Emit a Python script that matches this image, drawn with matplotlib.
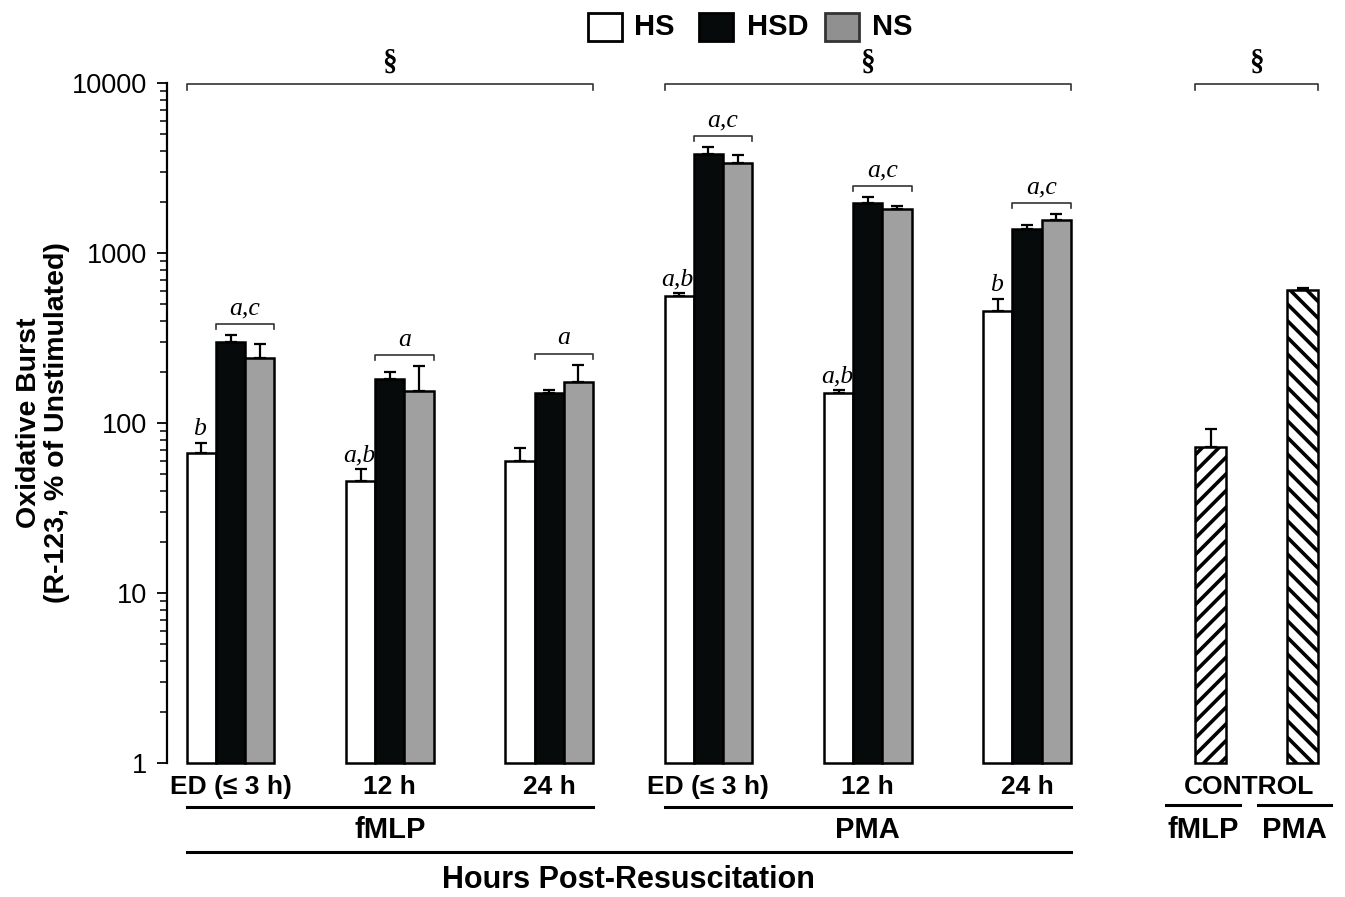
import matplotlib.pyplot as plt
import matplotlib.transforms as mtransforms
from matplotlib.patches import Rectangle
from matplotlib.ticker import FixedLocator, LogLocator, NullFormatter
import numpy as np

plt.rcParams['font.family'] = ['Liberation Sans', 'DejaVu Sans']
plt.rcParams['hatch.linewidth'] = 2.6

# data
times = ['ED (≤ 3 h)', '12 h', '24 h']
stimuli = ['fMLP', 'PMA']
series = ['HS', 'HSD', 'NS']

hs = [67, 45.5, 60, 560, 150, 458]
hs_err = [10, 8.5, 12, 26, 7, 83]
hsd = [302, 183, 150, 3845, 1982, 1394]
hsd_err = [28, 17, 7, 360, 166, 65]
ns = [243, 154, 174, 3404, 1812, 1560]
ns_err = [49, 62, 46, 396, 83, 132]
control = [73, 606]
control_err = [19, 22]

hs_sig = ['b', 'a,b', '', 'a,b', 'a,b', 'b']
pair_sig = ['a,c', 'a', 'a', 'a,c', 'a,c', 'a,c']

W, H = 1345, 897
fig = plt.figure(figsize=(W / 100, H / 100), dpi=100)
ax = fig.add_axes([166.5 / W, 1 - 763.3 / H, (1335 - 166.5) / W, (763.3 - 83.3) / H])

unit = 159.3
w = 29.2 / unit
cw = 31 / unit
gx = np.arange(6)
ctrl_x = np.array([6.155, 6.73])

colors = ['white', '#070a0b', '#a0a0a0']
vals = [hs, hsd, ns]
errs = [hs_err, hsd_err, ns_err]
for k in range(3):
    x = gx + (k - 1) * w
    v = np.array(vals[k])
    ax.bar(x, v - 1, w, bottom=1, color=colors[k], edgecolor='black', lw=1.8, clip_on=False, zorder=2)
    ax.errorbar(x, v, yerr=[np.zeros(6), errs[k]], fmt='none', ecolor='black',
                elinewidth=1.6, capsize=4.5, capthick=1.6, zorder=3)

cv = np.array(control)
for j, hatch in enumerate(['//', '\\\\']):
    ax.bar(ctrl_x[j], cv[j] - 1, cw, bottom=1, color='white', edgecolor='black', hatch=hatch,
           lw=1.8, clip_on=False, zorder=2)
ax.errorbar(ctrl_x, cv, yerr=[np.zeros(2), control_err], fmt='none', ecolor='black',
            elinewidth=1.6, capsize=4.5, capthick=1.6, zorder=3)

ax.set_yscale('log')
ax.set_ylim(1, 10000)
ax.set_xlim((166.5 - 230.5) / unit, (1335 - 230.5) / unit)
ax.yaxis.set_major_locator(FixedLocator([1, 10, 100, 1000, 10000]))
ax.set_yticklabels(['1', '10', '100', '1000', '10000'])
ax.yaxis.set_minor_locator(LogLocator(base=10, subs=np.arange(2, 10)))
ax.yaxis.set_minor_formatter(NullFormatter())
ax.tick_params(axis='y', which='major', length=7, width=1.3, labelsize=19.5, pad=7)
ax.tick_params(axis='y', which='minor', length=5, width=1.1)
ax.set_xticks([])
for s in ['top', 'right', 'bottom']:
    ax.spines[s].set_visible(False)
ax.spines['left'].set_linewidth(1.6)

# significance marks
serif = dict(family=['Liberation Serif', 'DejaVu Serif'], style='italic', fontsize=18.5)
tick = 10 ** (5 / 170)
for i in range(6):
    top = max(hsd[i] + hsd_err[i], ns[i] + ns_err[i]) * 10 ** (11 / 170)
    x0, x1 = gx[i] - w / 2, gx[i] + 1.5 * w
    ax.plot([x0, x0, x1, x1], [top / tick, top, top, top / tick], color='#333333', lw=1.2, zorder=3)
    ax.annotate(pair_sig[i], (gx[i] + w / 2, top), xytext=(0, 7), textcoords='offset points',
                ha='center', va='baseline', **serif)
    if hs_sig[i]:
        ax.annotate(hs_sig[i], (gx[i] - w, hs[i] + hs_err[i]), xytext=(-1, 5.5),
                    textcoords='offset points', ha='center', va='baseline', **serif)

# § brackets along the top
xa = ax.get_xaxis_transform()
spans = [(gx[0] - 1.5 * w, gx[2] + 1.5 * w), (gx[3] - 1.5 * w, gx[5] + 1.5 * w),
         (ctrl_x[0] - cw / 2, ctrl_x[1] + cw / 2)]
yb, yt = (763.3 - 84.3) / 680, (763.3 - 89.5) / 680
for x0, x1 in spans:
    ax.plot([x0, x0, x1, x1], [yt, yb, yb, yt], transform=xa, color='#333333', lw=1.2, clip_on=False)
    ax.text((x0 + x1) / 2, (763.3 - 62) / 680, '§', transform=xa, ha='center', va='center',
            fontsize=21, fontweight='bold', family=['Liberation Serif', 'DejaVu Serif'])

# category labels below the axis
trans = mtransforms.blended_transform_factory(ax.transData, fig.transFigure)
fy = lambda py: 1 - py / H
bold = dict(fontweight='bold', ha='center', va='center')
for i in range(6):
    ax.text(gx[i], fy(786.7), times[i % 3], transform=trans, fontsize=19, **bold)
for s in range(2):
    x0, x1 = gx[3 * s] - 1.5 * w, gx[3 * s + 2] + 1.5 * w
    ax.plot([x0, x1], [fy(807.3)] * 2, transform=trans, color='black', lw=2.2, clip_on=False)
    ax.text((x0 + x1) / 2, fy(830), stimuli[s], transform=trans, fontsize=21, **bold)
x0, x1 = gx[0] - 1.5 * w, gx[5] + 1.5 * w
ax.plot([x0, x1], [fy(851.7)] * 2, transform=trans, color='black', lw=2.2, clip_on=False)
ax.text((x0 + x1) / 2, fy(880), 'Hours Post-Resuscitation', transform=trans, fontsize=22, **bold)

ax.text(ctrl_x.mean() - 0.05, fy(786.7), 'CONTROL', transform=trans, fontsize=19, **bold)
for j in range(2):
    c = ctrl_x[j] - 0.05
    ax.plot([c - 0.23, c + 0.23], [fy(805)] * 2, transform=trans, color='black', lw=2.2, clip_on=False)
    ax.text(c, fy(830), stimuli[j], transform=trans, fontsize=21, **bold)

# y label
fig.text(43 / W, fy(423), 'Oxidative Burst\n(R-123, % of Unstimulated)', rotation=90,
         ha='center', va='center', multialignment='center', fontsize=20.5, fontweight='bold',
         linespacing=1.15)

# legend
box_x = [588, 699, 825]
text_x = [634, 747, 872]
box_edge = ['black', 'black', '#333333']
leg_fill = ['white', '#070a0b', '#909090']
for k in range(3):
    fig.patches.append(Rectangle((box_x[k] / W, fy(41)), 34 / W, 28 / H, transform=fig.transFigure,
                                 facecolor=leg_fill[k], edgecolor=box_edge[k], lw=2))
    fig.text(text_x[k] / W, fy(27), series[k], ha='left', va='center', fontsize=21, fontweight='bold')

fig.savefig('out.png', dpi=100)
